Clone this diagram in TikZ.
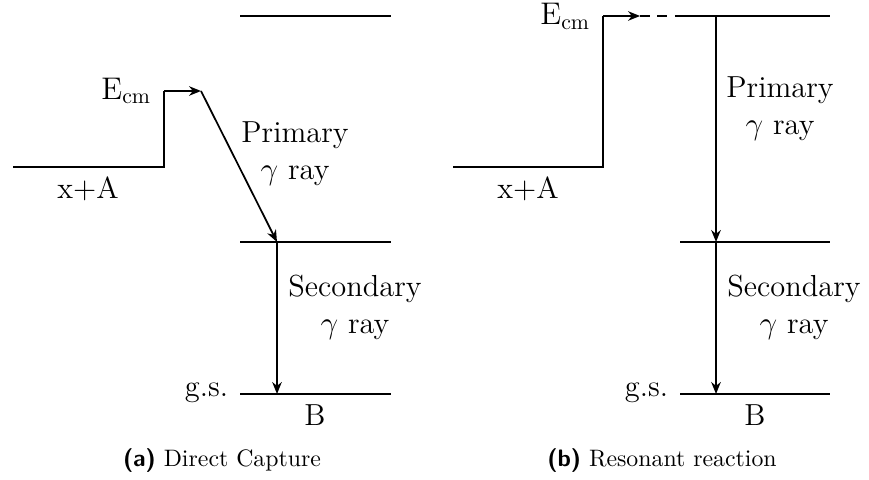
\documentclass[tikz,border=0pt,12pt]{standalone}
\usetikzlibrary{arrows.meta}
\newcommand{\Ecm}{$\mathrm{E}_{\mathrm{cm}}$}

\begin{document}
\begin{tikzpicture}[>={Stealth[length=5.5pt,width=4.4pt]},x=0.46pt,y=-0.46pt,line width=0.8pt,
 lab/.style={font=\fontsize{14}{17}\selectfont,inner sep=0pt,align=center},
 captext/.style={font=\small,inner sep=0pt},
 feed/.style={dash pattern=on 4.5pt off 3.5pt}]
\useasboundingbox (0,0) rectangle (869,479);
% (a) direct capture
\coordinate (a-in) at (13,167);
\coordinate (a-step) at (164,167);
\coordinate (a-up) at (164,91);
\coordinate (a-ecm) at (201,91);
\coordinate (a-topl) at (240,16);
\coordinate (a-topr) at (391,16);
\coordinate (a-midl) at (240,242);
\coordinate (a-midr) at (391,242);
\coordinate (a-gsl) at (240,394);
\coordinate (a-gsr) at (391,394);
\coordinate (a-mid) at (277,242);
\coordinate (a-gs) at (277,394);
\draw (a-topl) -- (a-topr);
\draw (a-midl) -- (a-midr);
\draw (a-gsl) -- (a-gsr);
\draw (a-in) -- (a-step) -- (a-up);
\draw[->] (a-up) -- (a-ecm);
\draw[->] (a-ecm) -- (a-mid);
\draw[->] (a-mid) -- (a-gs);
\node[lab,anchor=base east] (a-elab) at (152,99) {\Ecm};
\node[lab,anchor=base] (a-xa) at (88,198) {x+A};
\node[lab,anchor=north] (a-prim) at (295,121) {Primary\\$\gamma$ ray};
\node[lab,anchor=north] (a-sec) at (355,274) {Secondary\\$\gamma$ ray};
\node[lab,anchor=base east] (a-gslab) at (229,396) {g.s.};
\node[lab,anchor=base] (a-b) at (315,425) {B};
\node[captext,anchor=base] (a-cap) at (222,466) {\textbf{\sffamily(a)} Direct Capture};
% (b) resonant reaction
\coordinate (b-in) at (453,167);
\coordinate (b-step) at (603,167);
\coordinate (b-up) at (603,16);
\coordinate (b-ecm) at (640,16);
\coordinate (b-topl) at (680,16);
\coordinate (b-topr) at (830,16);
\coordinate (b-midl) at (680,242);
\coordinate (b-midr) at (830,242);
\coordinate (b-gsl) at (680,394);
\coordinate (b-gsr) at (830,394);
\coordinate (b-res) at (716,16);
\coordinate (b-mid) at (716,242);
\coordinate (b-gs) at (716,394);
\draw (b-topl) -- (b-topr);
\draw (b-midl) -- (b-midr);
\draw (b-gsl) -- (b-gsr);
\draw (b-in) -- (b-step) -- (b-up);
\draw[->] (b-up) -- (b-ecm);
\draw[feed] (b-ecm) -- (b-topl);
\draw[->] (b-res) -- (b-mid);
\draw[->] (b-mid) -- (b-gs);
\node[lab,anchor=base east] (b-elab) at (591,25) {\Ecm};
\node[lab,anchor=base] (b-xa) at (528,198) {x+A};
\node[lab,anchor=north] (b-prim) at (780,76) {Primary\\$\gamma$ ray};
\node[lab,anchor=north] (b-sec) at (794,274) {Secondary\\$\gamma$ ray};
\node[lab,anchor=base east] (b-gslab) at (669,396) {g.s.};
\node[lab,anchor=base] (b-b) at (755,425) {B};
\node[captext,anchor=base] (b-cap) at (662,466) {\textbf{\sffamily(b)} Resonant reaction};
\end{tikzpicture}
\end{document}
